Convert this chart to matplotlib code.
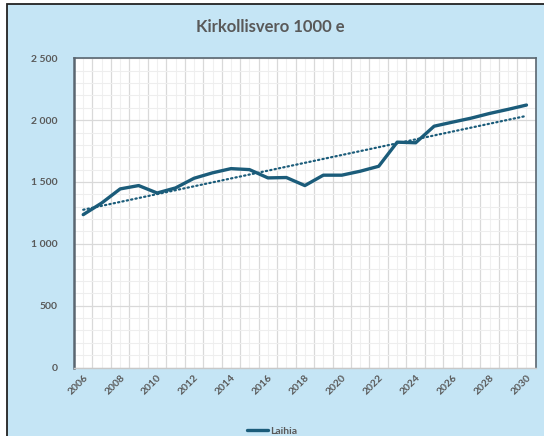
import numpy as np
import matplotlib
matplotlib.use("Agg")
import matplotlib.pyplot as plt
from matplotlib.patches import Rectangle

years = list(range(2006, 2031))
values = [1236, 1330, 1444, 1471, 1411, 1452, 1530, 1574, 1608, 1600,
          1533, 1536, 1471, 1555, 1555, 1587, 1627, 1822, 1817, 1951,
          1984, 2016, 2054, 2087, 2122]
series_name = "Laihia"
title = "Kirkollisvero 1000 e"
ytick_vals = [0, 500, 1000, 1500, 2000, 2500]
ytick_labels = ["0", "500", "1 000", "1 500", "2 000", "2 500"]
xtick_years = list(range(2006, 2031, 2))

plt.rcParams['font.family'] = ['Lato', 'DejaVu Sans']

W, H = 544, 436
fig = plt.figure(figsize=(W / 100, H / 100), dpi=100, facecolor='white')
bg = '#c5e5f5'
fig.patches.append(Rectangle((7 / W, -0.05), 1.2, 1 - 4 / H + 0.05,
                             transform=fig.transFigure, facecolor=bg,
                             edgecolor='#222222', lw=1.3, zorder=-5))

ax = fig.add_axes([74 / W, 1 - 367.5 / H, (535.7 - 74) / W, (367.5 - 58.3) / H])
ax.set_zorder(1)
ax.set_facecolor('white')

line_color = '#1b5c7a'
ax.plot(years, values, color=line_color, lw=2.4, solid_capstyle='round',
        solid_joinstyle='round', label=series_name, zorder=3)

# linear trendline
coef = np.polyfit(years, values, 1)
tx = np.array([years[0], years[-1]])
ax.plot(tx, np.polyval(coef, tx), color=line_color, lw=1.6,
        linestyle=(0, (0.6, 1.4)), dash_capstyle='round', zorder=2)

ax.set_xlim(years[0] - 0.5, years[-1] + 0.5)
ax.set_ylim(0, 2500)

ax.set_xticks(years)
ax.set_xticklabels([str(y) if y in xtick_years else "" for y in years],
                   rotation=45, ha='right', va='top', rotation_mode='anchor',
                   fontsize=7.5, fontweight='bold', color='#595959')
ax.set_xticks([y - 0.5 for y in years[1:]], minor=True)
ax.set_yticks(ytick_vals)
ax.set_yticklabels(ytick_labels, fontsize=7.5, fontweight='bold', color='#595959')
ax.set_yticks(np.arange(0, 2501, 100), minor=True)

ax.tick_params(axis='both', which='both', length=0)
ax.tick_params(axis='y', pad=12)
ax.tick_params(axis='x', pad=4)

ax.grid(True, axis='x', which='major', color='#f0f0f0', lw=0.8)
ax.grid(True, axis='x', which='minor', color='#d9d9d9', lw=0.9)
ax.grid(True, axis='y', which='major', color='#d9d9d9', lw=0.9)
ax.grid(True, axis='y', which='minor', color='#eeeeee', lw=0.8)
ax.set_axisbelow(True)

for side in ['left', 'top', 'right']:
    ax.spines[side].set_color('#5a6670')
    ax.spines[side].set_linewidth(1.2)
ax.spines['left'].set_linewidth(1.8)
ax.spines['bottom'].set_color('#c8c8c8')
ax.spines['bottom'].set_linewidth(1.0)

fig.text(270 / W, 1 - 27 / H, title, ha='center', va='center',
         fontsize=12, fontweight='bold', color='#595959')

leg = fig.legend(handles=[ax.lines[0]], labels=[series_name],
                 loc='center', bbox_to_anchor=(272 / W, 1 - 431 / H),
                 frameon=False, fontsize=7.5, handlelength=2.0,
                 handletextpad=0.2, borderpad=0)
for t in leg.get_texts():
    t.set_color('#595959')
    t.set_fontweight('bold')

fig.savefig('out.png', dpi=100, facecolor=fig.get_facecolor())
